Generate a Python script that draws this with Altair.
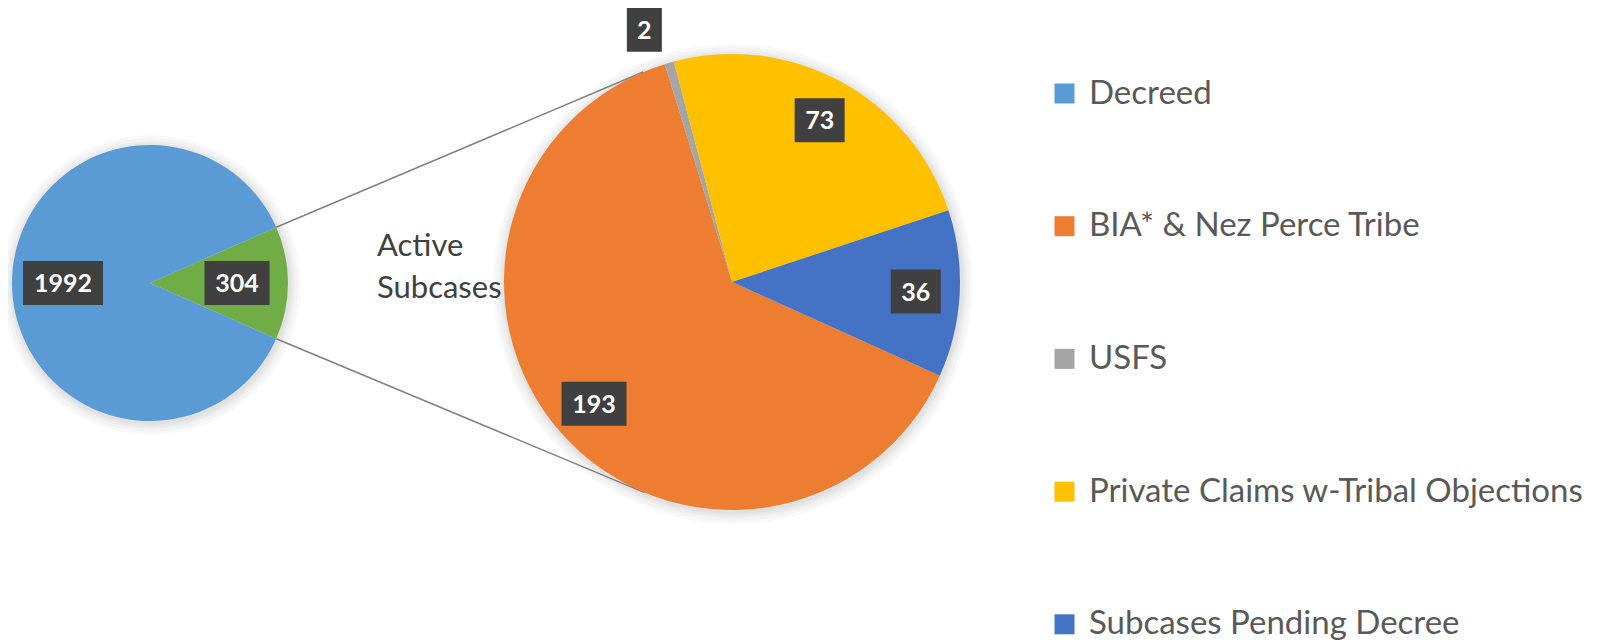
import math
import altair as alt
import pandas as pd

# ---------------- data ----------------
main_categories = ["Decreed", "Active Subcases"]
main_values = [1992, 304]
sub_categories = ["BIA* & Nez Perce Tribe", "USFS",
                  "Private Claims w-Tribal Objections", "Subcases Pending Decree"]
sub_values = [193, 2, 73, 36]
legend_labels = ["Decreed", "BIA* & Nez Perce Tribe", "USFS",
                 "Private Claims w-Tribal Objections", "Subcases Pending Decree"]
category_colors = ["#5B9BD5", "#70AD47", "#ED7D31", "#A5A5A5", "#FFC000", "#4472C4"]

# ---------------- layout (pixels on the page) ----------------
W, H = 1585, 635
M = 8
CX1, CY1, R1 = 150, 283, 138
CX2, CY2, R2 = 732, 282, 228
LABEL_R1, LABEL_R2, LABEL_OUT = 87, 184, 267
SUB_START = 114.3          # degrees, clockwise from 12 o'clock
FONT = "Lato"

share_active = main_values[1] / sum(main_values)
MAIN_START = 90 - share_active * 180   # active slice centred on 3 o'clock


def slices(cats, vals, order_idx, start, cx, cy, r_lab):
    total = sum(vals)
    a = start
    rows = []
    for k, i in enumerate(order_idx):
        span = vals[i] / total * 360
        mid = a + span / 2
        if vals[i] / total < 0.03:
            r, ml = LABEL_OUT, mid - 3.2
        else:
            r, ml = r_lab, mid
        lab = str(vals[i])
        lx = cx + r * math.sin(math.radians(ml))
        ly = cy - r * math.cos(math.radians(ml))
        hw = (15 * len(lab) + 20) / 2
        rows.append(dict(category=cats[i], value=vals[i], order=k, label=lab,
                         lx=lx, ly=ly, bx0=lx - hw, bx1=lx + hw,
                         by0=ly - 22, by1=ly + 22))
        a += span
    return pd.DataFrame(rows)


main_df = slices(main_categories, main_values, [1, 0], MAIN_START, CX1, CY1, LABEL_R1)
sub_df = slices(sub_categories, sub_values, [0, 1, 2, 3], SUB_START, CX2, CY2, LABEL_R2)
labels_df = pd.concat([main_df, sub_df], ignore_index=True)


# connector lines: from the edges of the active slice, tangent to the second pie
def tangent(px, py, upper):
    dx, dy = px - CX2, py - CY2
    d = math.hypot(dx, dy)
    phi = math.atan2(dy, dx)
    alpha = math.acos(R2 / d)
    cands = [phi + alpha, phi - alpha]
    pts = [(CX2 + R2 * math.cos(t), CY2 + R2 * math.sin(t)) for t in cands]
    pts.sort(key=lambda p: p[1])
    return pts[0] if upper else pts[1]


a_up = math.radians(MAIN_START)
a_lo = math.radians(MAIN_START + share_active * 360)
p_up = (CX1 + R1 * math.sin(a_up), CY1 - R1 * math.cos(a_up))
p_lo = (CX1 + R1 * math.sin(a_lo), CY1 - R1 * math.cos(a_lo))
t_up = tangent(*p_up, True)
t_lo = tangent(*p_lo, False)
line_df = pd.DataFrame([
    dict(x=p_up[0], y=p_up[1], x2=t_up[0], y2=t_up[1]),
    dict(x=p_lo[0], y=p_lo[1], x2=t_lo[0], y2=t_lo[1]),
])

active_df = pd.DataFrame([dict(x=377, y=247,
                               text=main_categories[1].replace(" ", "\n"))])

# ---------------- encodings ----------------
xscale = alt.Scale(domain=[M, M + W], nice=False, zero=False)
yscale = alt.Scale(domain=[M, M + H], nice=False, zero=False, reverse=True)

color_enc = alt.Color(
    "category:N",
    scale=alt.Scale(domain=main_categories + sub_categories, range=category_colors),
    legend=alt.Legend(values=legend_labels, orient="none", legendX=1040, legendY=69,
                      title=None, symbolType="square", symbolSize=400,
                      symbolStrokeWidth=0, labelFont=FONT, labelFontSize=33,
                      labelColor="#595959", labelLimit=800, rowPadding=98.7,
                      labelOffset=8, padding=0),
)


def halo(df, cx, cy, r):
    layers = []
    for k in (2, 4, 6, 9, 12):
        layers.append(
            alt.Chart(df).transform_aggregate(total="sum(value)")
            .mark_arc(outerRadius=r + k, color="#000000", opacity=0.022)
            .encode(theta=alt.Theta("total:Q"),
                    x=alt.value(cx - M + 1), y=alt.value(cy - M + 2))
        )
    return layers


lines = alt.Chart(line_df).mark_rule(color="#808080", strokeWidth=1.5).encode(
    x=alt.X("x:Q", scale=xscale, axis=None),
    y=alt.Y("y:Q", scale=yscale, axis=None),
    x2="x2:Q", y2="y2:Q",
)

left_pie = alt.Chart(main_df).mark_arc(outerRadius=R1).encode(
    theta=alt.Theta("value:Q", stack=True,
                    scale=alt.Scale(range=[math.radians(MAIN_START),
                                           math.radians(MAIN_START) + 2 * math.pi])),
    color=color_enc,
    order=alt.Order("order:Q"),
    x=alt.value(CX1 - M), y=alt.value(CY1 - M),
)

right_pie = alt.Chart(sub_df).mark_arc(outerRadius=R2).encode(
    theta=alt.Theta("value:Q", stack=True,
                    scale=alt.Scale(range=[math.radians(SUB_START),
                                           math.radians(SUB_START) + 2 * math.pi])),
    color=color_enc,
    order=alt.Order("order:Q"),
    x=alt.value(CX2 - M), y=alt.value(CY2 - M),
)

boxes = alt.Chart(labels_df).mark_rect(color="#404040").encode(
    x=alt.X("bx0:Q", scale=xscale, axis=None), x2="bx1:Q",
    y=alt.Y("by0:Q", scale=yscale, axis=None), y2="by1:Q",
)

texts = alt.Chart(labels_df).mark_text(
    font=FONT, fontWeight="bold", fontSize=25, color="white",
    align="center", baseline="middle", dy=1,
).encode(
    x=alt.X("lx:Q", scale=xscale, axis=None),
    y=alt.Y("ly:Q", scale=yscale, axis=None),
    text="label:N",
)

active = alt.Chart(active_df).mark_text(
    font=FONT, fontSize=31, color="#404040", align="left", baseline="middle",
    lineBreak="\n", lineHeight=42,
).encode(
    x=alt.X("x:Q", scale=xscale, axis=None),
    y=alt.Y("y:Q", scale=yscale, axis=None),
    text="text:N",
)

layers = (halo(main_df, CX1, CY1, R1) + halo(sub_df, CX2, CY2, R2)
          + [lines, left_pie, right_pie, boxes, texts, active])

chart = alt.layer(*layers).resolve_scale(
    theta="independent"
).properties(
    width=W, height=H, padding=0,
    autosize=alt.AutoSizeParams(type="none"),
    view=alt.ViewBackground(stroke="transparent", strokeWidth=0),
).configure_view(stroke="transparent", strokeWidth=0).configure(background="white")

chart.save("out.html", embed_options={"renderer": "svg", "actions": False})
